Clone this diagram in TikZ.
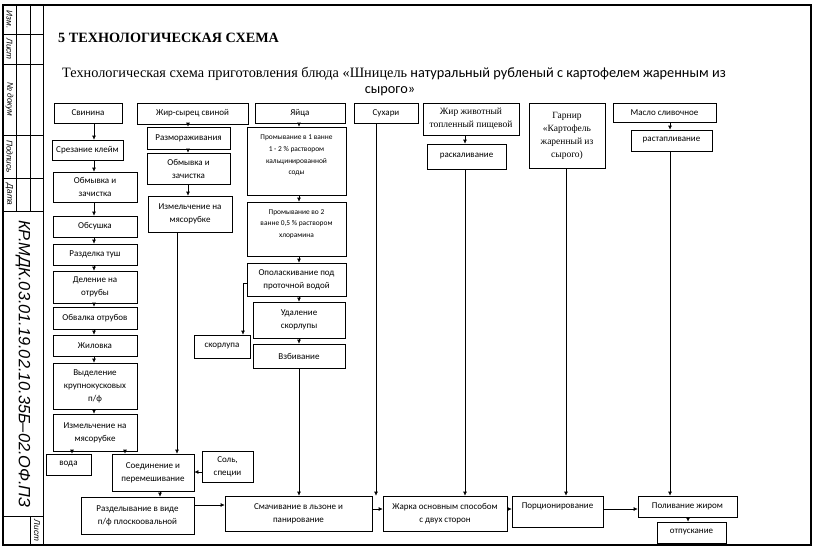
\documentclass[tikz,border=0pt]{standalone}
\usepackage{fontspec}
\setmainfont{Liberation Serif}
\newfontfamily\calfont{Carlito}
\newfontfamily\gostfont{Liberation Sans}
\usetikzlibrary{arrows.meta}
\newcommand{\mybox}[7][]{%
  \pgfmathsetmacro{\bxcx}{(#3+#5)/2}%
  \pgfmathsetmacro{\bxcy}{(#4+#6)/2}%
  \pgfmathsetmacro{\bxw}{#5-#3}%
  \pgfmathsetmacro{\bxh}{#6-#4}%
  \node[box,minimum width=\bxw pt,minimum height=\bxh pt,#1] (#2) at (\bxcx,\bxcy) {#7};}
\begin{document}
\begin{tikzpicture}[x=1pt,y=-1pt,
  box/.style={draw,line width=0.6pt,inner sep=1pt,align=center,font=\calfont\fontsize{9}{13}\selectfont},
  serif/.style={font=\rmfamily\fontsize{9.5}{13}\selectfont},
  smalltxt/.style={inner sep=0pt,align=center,font=\calfont\fontsize{7.4}{11.6}\selectfont},
  txt/.style={inner sep=0pt,align=center,font=\calfont\fontsize{9}{13}\selectfont},
  arr/.style={-{Latex[length=4pt,width=3.8pt]},line width=0.6pt},
  frame/.style={line width=1.8pt},
  striplines/.style={line width=1pt},
  stamp/.style={font=\gostfont\itshape\fontsize{8.3}{9}\selectfont,rotate=-90,inner sep=0pt}]
\useasboundingbox (0,0) rectangle (816,546);
% frame and stamp strip
\draw[frame] (3,5) rectangle (811,545);
\draw[frame] (43.5,5) -- (43.5,545);
\foreach \yy in {34,64,135,178,211,516} \draw[striplines] (3,\yy) -- (43.5,\yy);
\draw[striplines] (16,5) -- (16,211);
\draw[striplines] (30,5) -- (30,211);
\draw[striplines] (30,516) -- (30,545);
\node[stamp] (s1) at (9.5,19.5) {Изм.};
\node[stamp] (s2) at (9.5,49) {Лист};
\node[stamp] (s3) at (9.5,99.5) {№ докум};
\node[stamp] (s4) at (9.5,156.5) {Подпись};
\node[stamp] (s5) at (9.5,194.5) {Дата};
\node[stamp] (s6) at (37,530.5) {Лист};
\node[rotate=-90,inner sep=0pt,font=\gostfont\itshape\fontsize{16.3}{17}\selectfont] (code) at (23,364) {КР.МДК.03.01.19.02.10.35Б–02.ОФ.ПЗ};
% titles
\node[anchor=base west,inner sep=0pt,font=\bfseries\fontsize{14.2}{16}\selectfont] (title) at (58,42) {5 ТЕХНОЛОГИЧЕСКАЯ СХЕМА};
\node[anchor=base west,inner sep=0pt,font=\fontsize{14.3}{16}\selectfont] (sub1) at (62,77) {Технологическая схема приготовления блюда «Шницель\calfont{} натуральный рубленый с картофелем жаренным из};
\node[anchor=base,inner sep=0pt,font=\calfont\fontsize{14.3}{16}\selectfont] (sub2) at (390,93) {сырого»};
% column 1
\mybox{svin}{54}{103}{122}{123}{Свинина}
\mybox{srez}{52}{140}{123}{160}{Срезание клейм}
\mybox{obm1}{53}{172}{137}{202}{Обмывка и\\зачистка}
\mybox{obsush}{53}{216}{137}{237}{Обсушка}
\mybox{razd}{53}{244}{137}{265}{Разделка туш}
\mybox{delen}{53}{271}{137}{303}{Деление на\\отрубы}
\mybox{obval}{53}{307}{137}{329}{Обвалка отрубов}
\mybox{zhil}{53}{335}{137}{356}{Жиловка}
\mybox{vydel}{53}{363}{137}{409}{Выделение\\крупнокусковых\\п/ф}
\mybox{izm1}{53}{414}{137}{451}{Измельчение на\\мясорубке}
\mybox{voda}{46}{454}{91}{475}{вода}
\mybox{soed}{112}{454}{194}{491}{Соединение и\\перемешивание}
\mybox{sol}{202}{451}{253}{482}{Соль,\\специи}
\mybox{razdel}{81}{497}{194}{534}{Разделывание в виде\\п/ф плоскоовальной}
\mybox{smach}{225}{496}{372}{531}{Смачивание в льзоне и\\панирование}
\mybox{zhar}{383}{496}{507}{531}{Жарка основным способом\\с двух сторон}
\mybox{porc}{512}{496}{603}{527}{}
\node[txt] (porct) at (557.5,506) {Порционирование};
\mybox{poliv}{638}{496}{737}{517}{Поливание жиром}
\mybox{otp}{657}{522}{726}{543}{отпускание}
% column 2
\mybox{zhir}{137}{103}{248}{124}{Жир-сырец свиной}
\mybox{razm}{147}{127}{230}{149}{Размораживания}
\mybox{obm2}{147}{153}{230}{184}{Обмывка и\\зачистка}
\mybox{izm2}{148}{196}{232}{232}{Измельчение на\\мясорубке}
% column 3
\mybox{yaic}{255}{103}{345}{123}{Яйца}
\mybox{prom1}{247}{127}{346}{195}{}
\node[smalltxt] (prom1t) at (296.5,155.5) {Промывание в 1 ванне\\1 - 2 \% раствором\\кальцинированной\\соды};
\mybox{prom2}{247}{202}{346}{256}{}
\node[smalltxt] (prom2t) at (296.5,224) {Промывание во 2\\ванне 0,5 \% раствором\\хлорамина};
\mybox{opol}{247}{263}{346}{296}{Ополаскивание под\\проточной водой}
\mybox{udal}{253}{302}{345}{338}{Удаление\\скорлупы}
\mybox{vzb}{253}{344}{345}{368}{Взбивание}
\mybox{skorl}{194}{335}{250}{358}{скорлупа}
\mybox{suh}{354}{103}{418}{123}{Сухари}
% right columns
\mybox[serif]{zhiv}{423}{103}{519}{135}{Жир животный\\топленный пищевой}
\mybox{rask}{427}{144}{506}{169}{раскаливание}
\mybox[serif]{garn}{529}{103}{605}{168}{Гарнир\\«Картофель\\жаренный из\\сырого)}
\mybox{masl}{613}{103}{716}{122}{Масло сливочное}
\mybox{rast}{631}{130}{712}{151}{растапливание}
% helper coordinates
\coordinate (xa) at (94,0);
\coordinate (xb) at (188,0);
\coordinate (xc) at (299,0);
\coordinate (xv) at (72,0);
\coordinate (xs) at (125,0);
\coordinate (xj) at (177,0);
\coordinate (xr) at (160,0);
\coordinate (xk) at (243,0);
\coordinate (xh) at (376,0);
\coordinate (xz) at (465,0);
\coordinate (xg) at (566,0);
\coordinate (xm) at (670,0);
\coordinate (xo) at (688,0);
\coordinate (ysol) at (0,472);
\coordinate (yraz) at (0,505);
\coordinate (ybot) at (0,509);
\coordinate (yop) at (0,283);
% connectors
\foreach \a/\b in {svin/srez,srez/obm1,obm1/obsush,obsush/razd,razd/delen,delen/obval,obval/zhil,zhil/vydel,vydel/izm1}
  \draw[arr] (\a.south -| xa) -- (\b.north -| xa);
\foreach \a/\b in {zhir/razm,razm/obm2,obm2/izm2}
  \draw[arr] (\a.south -| xb) -- (\b.north -| xb);
\foreach \a/\b in {yaic/prom1,prom1/prom2,prom2/opol,opol/udal,udal/vzb,vzb/smach}
  \draw[arr] (\a.south -| xc) -- (\b.north -| xc);
\draw[arr] (izm1.south -| xv) -- (voda.north -| xv);
\draw[arr] (izm1.south -| xs) -- (soed.north -| xs);
\draw[arr] (izm2.south -| xj) -- (soed.north -| xj);
\draw[arr] (sol.west |- ysol) -- (soed.east |- ysol);
\draw[arr] (soed.south -| xr) -- (razdel.north -| xr);
\draw[arr] (razdel.east |- yraz) -- (smach.west |- yraz);
\coordinate (kk) at (xk |- yop);
\draw[arr] (opol.west |- yop) -- (kk) -- (skorl.north -| xk);
\draw[arr] (suh.south -| xh) -- (smach.north -| xh);
\draw[arr] (smach.east |- ybot) -- (zhar.west |- ybot);
\draw[arr] (zhiv.south -| xz) -- (rask.north -| xz);
\draw[arr] (rask.south -| xz) -- (zhar.north -| xz);
\draw[arr] (garn.south -| xg) -- (porc.north -| xg);
\draw[arr] (zhar.east |- ybot) -- (porc.west |- ybot);
\draw[arr] (porc.east |- ybot) -- (poliv.west |- ybot);
\draw[arr] (masl.south -| xm) -- (rast.north -| xm);
\draw[arr] (rast.south -| xm) -- (poliv.north -| xm);
\draw[arr] (poliv.south -| xo) -- (otp.north -| xo);
\end{tikzpicture}
\end{document}
